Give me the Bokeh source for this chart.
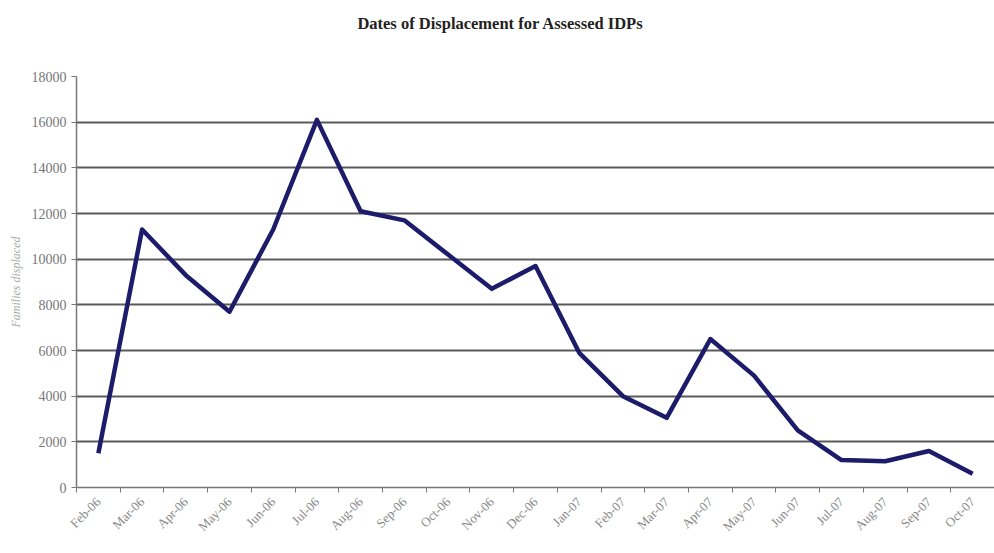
from bokeh.plotting import figure
from bokeh.models import Range1d, FixedTicker, ColumnDataSource, Div
from bokeh.layouts import column
from bokeh.embed import file_html
from bokeh.resources import INLINE

months = ["Feb-06", "Mar-06", "Apr-06", "May-06", "Jun-06", "Jul-06", "Aug-06",
          "Sep-06", "Oct-06", "Nov-06", "Dec-06", "Jan-07", "Feb-07", "Mar-07",
          "Apr-07", "May-07", "Jun-07", "Jul-07", "Aug-07", "Sep-07", "Oct-07"]
families = [1500, 11300, 9300, 7700, 11300, 16100, 12100, 11700, 10200, 8700,
            9700, 5900, 4000, 3050, 6500, 4900, 2500, 1200, 1150, 1600, 600]
y_ticks = [0, 2000, 4000, 6000, 8000, 10000, 12000, 14000, 16000, 18000]
title_text = "Dates of Displacement for Assessed IDPs"

n = len(months)
xs = [i + 0.5 for i in range(n)]
src = ColumnDataSource(dict(x=xs, y=families))

head = Div(text=title_text, width=994, height=40, margin=0,
           styles={"text-align": "center", "font-family": "Liberation Serif",
                   "font-weight": "bold", "font-size": "16.5px", "color": "#222222",
                   "padding-top": "12px", "box-sizing": "border-box",
                   "width": "1000px"})

p = figure(width=994, height=513, output_backend="svg", toolbar_location=None,
           x_range=Range1d(0, n), y_range=Range1d(0, 18000),
           min_border_left=76, min_border_right=0, min_border_top=36,
           min_border_bottom=66, margin=0)
p.outline_line_color = None
p.background_fill_color = "white"
p.border_fill_color = "white"

p.line("x", "y", source=src, line_color="#1c1c6a", line_width=4.5, line_join="round")

# y axis
p.yaxis.ticker = FixedTicker(ticks=y_ticks)
p.yaxis.axis_label = "Families displaced"
p.yaxis.axis_label_text_font = "Liberation Serif"
p.yaxis.axis_label_text_font_style = "italic"
p.yaxis.axis_label_text_font_size = "12px"
p.yaxis.axis_label_text_color = "#aaaaaa"
p.yaxis.axis_label_standoff = 6
p.yaxis.major_label_text_font = "Liberation Serif"
p.yaxis.major_label_text_font_size = "14px"
p.yaxis.major_label_text_color = "#777777"
p.yaxis.major_label_standoff = 5
p.yaxis.axis_line_color = "#777777"
p.yaxis.axis_line_width = 1.5
p.yaxis.major_tick_line_color = "#777777"
p.yaxis.major_tick_out = 5
p.yaxis.major_tick_in = 0
p.yaxis.minor_tick_line_color = None

# x axis
p.xaxis.ticker = FixedTicker(ticks=xs, minor_ticks=list(range(n + 1)))
p.xaxis.major_label_overrides = {x: m for x, m in zip(xs, months)}
p.xaxis.major_label_orientation = 0.785
p.xaxis.major_label_text_font = "Liberation Serif"
p.xaxis.major_label_text_font_size = "13px"
p.xaxis.major_label_text_color = "#888888"
p.xaxis.major_label_standoff = 6
p.xaxis.major_tick_line_color = None
p.xaxis.minor_tick_line_color = "#777777"
p.xaxis.minor_tick_out = 5
p.xaxis.minor_tick_in = 0
p.xaxis.axis_line_color = "#777777"
p.xaxis.axis_line_width = 1.5

p.xgrid.grid_line_color = None
p.ygrid.ticker = FixedTicker(ticks=y_ticks[1:])
p.ygrid.grid_line_color = "#5a5a5a"
p.ygrid.grid_line_width = 2

layout = column(head, p, spacing=0, margin=0)
open("out.html", "w").write(file_html(layout, INLINE))
